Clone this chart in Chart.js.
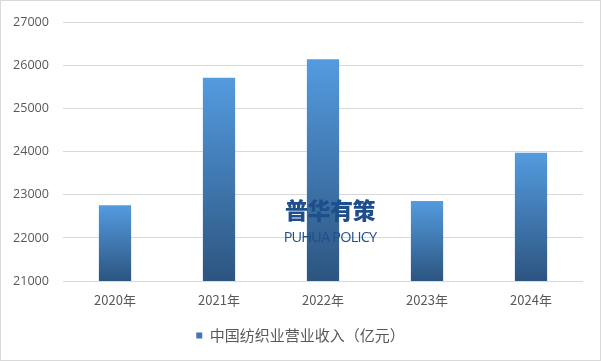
<!DOCTYPE html>
<html><head><meta charset="utf-8">
<script src="https://cdn.jsdelivr.net/npm/chart.js@4"></script>
<style>
html,body{margin:0;padding:0;background:#fff;}
#wrap{position:relative;width:601px;height:361px;box-sizing:border-box;border:1px solid #d9d9d9;}
#c{position:absolute;left:0;top:0;}
#wm{position:absolute;left:264px;top:194px;width:130px;text-align:center;color:#1f4e8c;pointer-events:none;font-family:"Noto Sans CJK SC",sans-serif;}
#wm .a{font-size:23px;font-weight:900;line-height:28px;letter-spacing:-0.5px;}
#wm .b{font-size:14.5px;line-height:17px;margin-top:5px;font-family:"Open Sans","Noto Sans",sans-serif;letter-spacing:-0.8px;}
</style></head>
<body>
<div id="wrap"><canvas id="c" width="599" height="359"></canvas>
<div id="wm"><div class="a">普华有策</div><div class="b">PUHUA POLICY</div></div></div>
<script>
const categories = ["2020年","2021年","2022年","2023年","2024年"];
const revenue = [22760, 25720, 26150, 22860, 23980];
const seriesName = "中国纺织业营业收入（亿元）";
const yMin = 21000, yMax = 27000, yStep = 1000;

function barGrad(ctx){
  const chart = ctx.chart;
  const ca = chart.chartArea;
  if(!ca || ctx.parsed === undefined || ctx.type !== 'data') return '#4a86c5';
  const y = chart.scales.y;
  const top = y.getPixelForValue(ctx.parsed.y);
  const bot = y.getPixelForValue(yMin);
  const g = chart.ctx.createLinearGradient(0, top, 0, bot);
  g.addColorStop(0, '#549bdf');
  g.addColorStop(1, '#2c5580');
  return g;
}

new Chart(document.getElementById('c'), {
  type: 'bar',
  data: { labels: categories, datasets: [{ label: seriesName, data: revenue, backgroundColor: barGrad, borderWidth: 0, barPercentage: 0.31, categoryPercentage: 1 }] },
  options: {
    responsive: false, animation: false,
    layout: { padding: { left: 0, right: 0, top: 8, bottom: 7 } },
    plugins: {
      tooltip: { enabled: false },
      legend: { position: 'bottom', labels: { boxWidth: 6, boxHeight: 6, color: '#595959', padding: 15, font: { size: 15, family: '"Noto Sans CJK SC", sans-serif' }, generateLabels: (chart)=>[{text: seriesName, fillStyle: '#3f77b3', strokeStyle: '#3f77b3', lineWidth: 0, fontColor: '#595959'}] } }
    },
    scales: {
      x: { afterFit: s => { s.height = 32; }, grid: { display: false, drawTicks: false }, border: { display: false }, ticks: { color: '#595959', padding: 11, font: { size: 13, family: '"Noto Sans CJK SC", sans-serif' } } },
      y: { afterFit: s => { s.width = 62; }, min: yMin, max: yMax, grid: { color: '#d9d9d9', drawTicks: false }, border: { display: false },
           ticks: { stepSize: yStep, color: '#595959', padding: 14, callback: v => String(v), font: { size: 12.6, family: '"Open Sans", sans-serif' } } },
      yR: { position: 'right', min: yMin, max: yMax, afterFit: s => { s.width = 17; }, grid: { display: false, drawTicks: false }, border: { display: false }, ticks: { display: false } }
    }
  }
});
</script>
</body></html>
